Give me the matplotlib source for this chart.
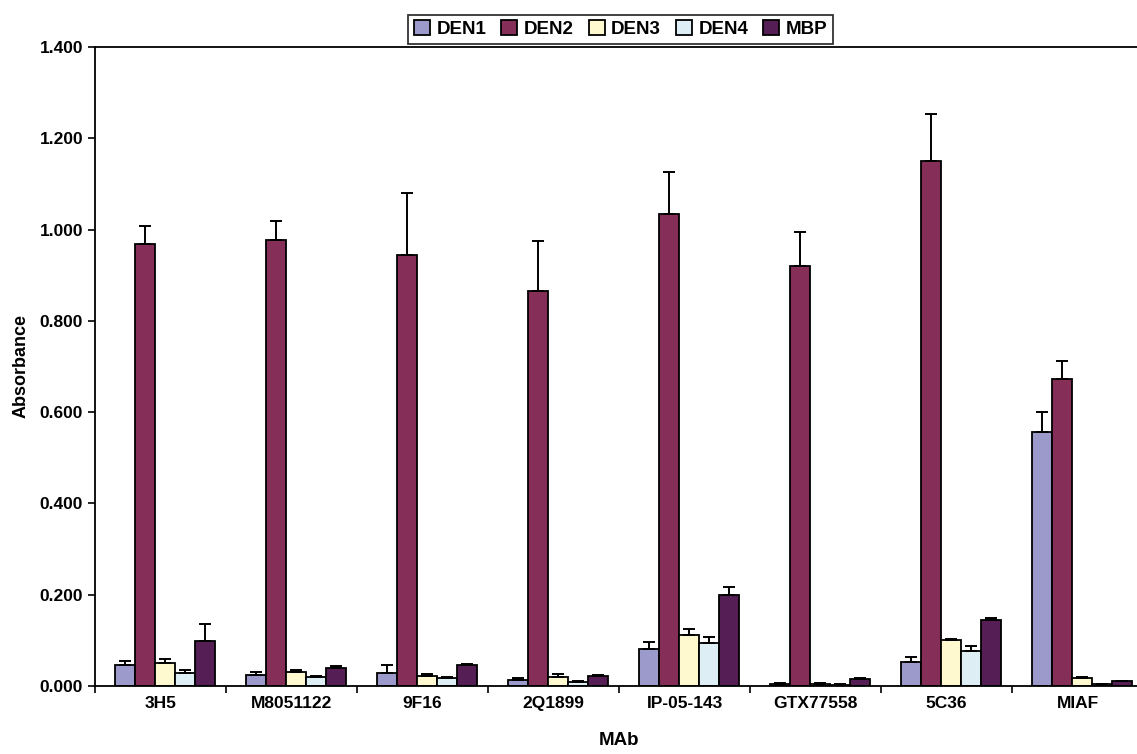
import matplotlib
matplotlib.use("Agg")
import matplotlib.pyplot as plt
import numpy as np

plt.rcParams["font.family"] = ["Liberation Sans", "DejaVu Sans"]
plt.rcParams["font.weight"] = "bold"

mabs = ["3H5", "M8051122", "9F16", "2Q1899", "IP-05-143", "GTX77558", "5C36", "MIAF"]
series = ["DEN1", "DEN2", "DEN3", "DEN4", "MBP"]

# mean absorbance per antigen, one list per series
den1 = [0.046, 0.024, 0.028, 0.014, 0.082, 0.004, 0.053, 0.557]
den2 = [0.968, 0.977, 0.944, 0.866, 1.034, 0.921, 1.150, 0.672]
den3 = [0.050, 0.031, 0.021, 0.019, 0.112, 0.005, 0.100, 0.017]
den4 = [0.028, 0.020, 0.018, 0.008, 0.094, 0.003, 0.077, 0.004]
mbp = [0.099, 0.040, 0.047, 0.023, 0.199, 0.015, 0.145, 0.010]

# upper error (SD)
den1_err = [0.009, 0.007, 0.019, 0.004, 0.014, 0.003, 0.011, 0.043]
den2_err = [0.040, 0.042, 0.136, 0.108, 0.093, 0.073, 0.103, 0.040]
den3_err = [0.010, 0.003, 0.005, 0.007, 0.012, 0.002, 0.004, 0.003]
den4_err = [0.007, 0.001, 0.001, 0.002, 0.013, 0.001, 0.011, 0.001]
mbp_err = [0.036, 0.003, 0.001, 0.001, 0.018, 0.003, 0.003, 0.001]

colors = ["#9C9ACA", "#852E57", "#FEF9CE", "#DDEEF4", "#551F56"]

values = [den1, den2, den3, den4, mbp]
errors = [den1_err, den2_err, den3_err, den4_err, mbp_err]

fig = plt.figure(figsize=(11.37, 7.54), dpi=100)
# plot area runs slightly past the right edge of the canvas
ax = fig.add_axes([95 / 1137, 1 - 686 / 754, 1048 / 1137, 639 / 754])

x = np.arange(len(mabs))
width = 1 / 1.3 / len(series)
for i, (name, vals, errs, col) in enumerate(zip(series, values, errors, colors)):
    pos = x - 0.5 + 0.15 + width * (i + 0.5)
    ax.bar(pos, vals, width, color=col, edgecolor="black", linewidth=1.3,
           label=name, zorder=2)
    ax.errorbar(pos, vals, yerr=[np.zeros(len(errs)), errs], fmt="none",
                ecolor="black", elinewidth=1.4, capsize=4.5, capthick=1.4,
                zorder=3)

ax.set_xlim(-0.5, len(mabs) - 0.5)
ax.set_ylim(0, 1.4)
ax.set_yticks(np.arange(0, 1.41, 0.2))
ax.set_yticklabels([f"{v:.3f}" for v in np.arange(0, 1.41, 0.2)])
ax.set_xticks(x)
ax.set_xticklabels(mabs)
ax.set_xticks(np.arange(-0.5, len(mabs)), minor=True)
ax.tick_params(axis="x", which="major", length=0, pad=7, labelsize=12.5)
ax.tick_params(axis="x", which="minor", length=5, width=1.2, direction="out")
ax.tick_params(axis="y", length=5, width=1.2, direction="out", labelsize=12.5)
for lab in ax.get_xticklabels() + ax.get_yticklabels():
    lab.set_fontweight("bold")

for s in ax.spines.values():
    s.set_linewidth(1.3)

ax.set_ylabel("Absorbance", fontsize=13, fontweight="bold", labelpad=7)
ax.set_xlabel("MAb", fontsize=13.5, fontweight="bold", labelpad=15)

leg = fig.legend(loc="upper center", bbox_to_anchor=(0.546, 0.993), ncol=5,
                 frameon=True, fancybox=False, edgecolor="black",
                 handlelength=0.85, handleheight=0.85, handletextpad=0.35,
                 columnspacing=0.8, borderpad=0.3,
                 prop={"size": 13.5, "weight": "bold"})
leg.get_frame().set_linewidth(1.3)

fig.savefig("out.png", dpi=100)
